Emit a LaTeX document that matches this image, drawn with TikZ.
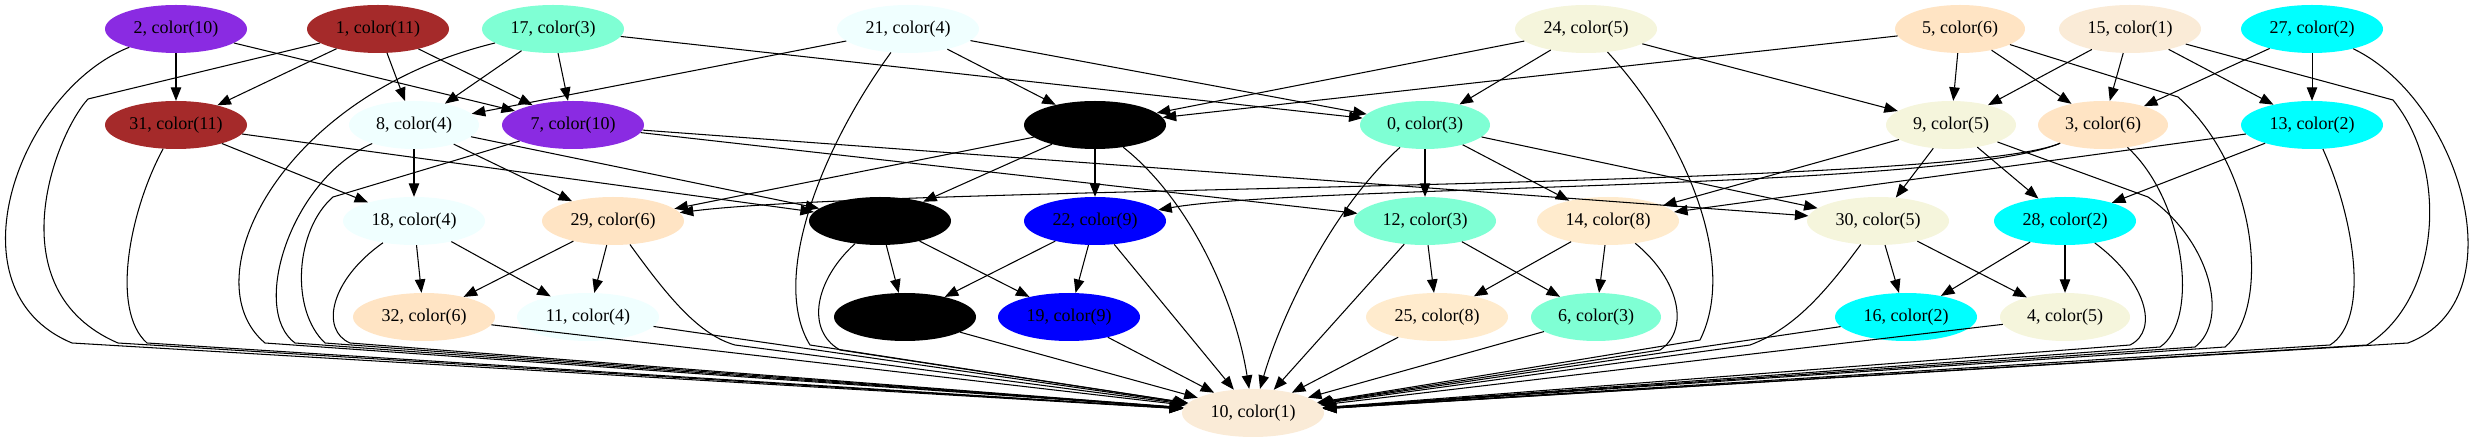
\documentclass[tikz,border=0pt]{standalone}
\usepackage{fontspec}
\setmainfont{Liberation Serif}
\usetikzlibrary{shapes.geometric,arrows.meta}
\definecolor{cantique}{HTML}{FAEBD7}
\definecolor{caqua}{HTML}{00FFFF}
\definecolor{caquamarine}{HTML}{7FFFD4}
\definecolor{cazure}{HTML}{F0FFFF}
\definecolor{cbeige}{HTML}{F5F5DC}
\definecolor{cbisque}{HTML}{FFE4C4}
\definecolor{calmond}{HTML}{FFEBCD}
\definecolor{cblue}{HTML}{0000FF}
\definecolor{cviolet}{HTML}{8A2BE2}
\definecolor{cbrown}{HTML}{A52A2A}
\begin{document}
\begin{tikzpicture}[x=1pt,y=-1pt,
  nd/.style={ellipse, draw=none, minimum width=142pt, minimum height=48pt, inner sep=0pt, font=\fontsize{18}{20}\selectfont},
  sm/.style={minimum width=130pt},
  e/.style={-{Triangle[length=13.5pt,width=10.5pt]}, line width=1.05pt}]
\useasboundingbox (0,0) rectangle (2482,443);
% rank 1
\node[nd, fill=cviolet] (n2) at (176,29) {2, color(10)};
\node[nd, fill=cbrown] (n1) at (378,29) {1, color(11)};
\node[nd, fill=caquamarine] (n17) at (553,29) {17, color(3)};
\node[nd, fill=cazure] (n21) at (908,29) {21, color(4)};
\node[nd, fill=cbeige] (n24) at (1586,29) {24, color(5)};
\node[nd, sm, fill=cbisque] (n5) at (1960,29) {5, color(6)};
\node[nd, fill=cantique] (n15) at (2130,29) {15, color(1)};
\node[nd, fill=caqua] (n27) at (2312,29) {27, color(2)};
% rank 2
\node[nd, fill=cbrown] (n31) at (176,125) {31, color(11)};
\node[nd, sm, fill=cazure] (n8) at (414,125) {8, color(4)};
\node[nd, fill=cviolet] (n7) at (573,125) {7, color(10)};
\node[nd, fill=black] (nA) at (1095,125) {};
\node[nd, sm, fill=caquamarine] (n0) at (1425,125) {0, color(3)};
\node[nd, sm, fill=cbeige] (n9) at (1951,125) {9, color(5)};
\node[nd, sm, fill=cbisque] (n3) at (2103,125) {3, color(6)};
\node[nd, fill=caqua] (n13) at (2312,125) {13, color(2)};
% rank 3
\node[nd, fill=cazure] (n18) at (414,221) {18, color(4)};
\node[nd, fill=cbisque] (n29) at (613,221) {29, color(6)};
\node[nd, fill=black] (nB) at (880,221) {};
\node[nd, fill=cblue] (n22) at (1095,221) {22, color(9)};
\node[nd, fill=caquamarine] (n12) at (1425,221) {12, color(3)};
\node[nd, fill=calmond] (n14) at (1608,221) {14, color(8)};
\node[nd, fill=cbeige] (n30) at (1878,221) {30, color(5)};
\node[nd, fill=caqua] (n28) at (2065,221) {28, color(2)};
% rank 4
\node[nd, fill=cbisque] (n32) at (424,317) {32, color(6)};
\node[nd, fill=cazure] (n11) at (588,317) {11, color(4)};
\node[nd, fill=black] (nC) at (905,317) {};
\node[nd, fill=cblue] (n19) at (1069,317) {19, color(9)};
\node[nd, fill=calmond] (n25) at (1437,317) {25, color(8)};
\node[nd, sm, fill=caquamarine] (n6) at (1596,317) {6, color(3)};
\node[nd, fill=caqua] (n16) at (1906,317) {16, color(2)};
\node[nd, sm, fill=cbeige] (n4) at (2065,317) {4, color(5)};
% rank 5
\node[nd, fill=cantique] (n10) at (1253,413) {10, color(1)};

% rank 1 -> rank 2
\draw[e] (n2) -- (n31);
\draw[e] (n2) -- (n7);
\draw[e] (n1) -- (n31);
\draw[e] (n1) -- (n8);
\draw[e] (n1) -- (n7);
\draw[e] (n17) -- (n8);
\draw[e] (n17) -- (n7);
\draw[e] (n17) -- (n0);
\draw[e] (n21) -- (n8);
\draw[e] (n21) -- (nA);
\draw[e] (n21) -- (n0);
\draw[e] (n24) -- (nA);
\draw[e] (n24) -- (n0);
\draw[e] (n24) -- (n9);
\draw[e] (n5) -- (nA);
\draw[e] (n5) -- (n9);
\draw[e] (n5) -- (n3);
\draw[e] (n15) -- (n9);
\draw[e] (n15) -- (n3);
\draw[e] (n15) -- (n13);
\draw[e] (n27) -- (n3);
\draw[e] (n27) -- (n13);
% rank 2 -> rank 3
\draw[e] (n31) -- (n18);
\draw[e] (n31) -- (nB);
\draw[e] (n8) -- (n18);
\draw[e] (n8) -- (n29);
\draw[e] (n8) -- (nB);
\draw[e] (n7) -- (n12);
\draw[e] (n7) -- (n30);
\draw[e] (nA) -- (nB);
\draw[e] (nA) -- (n22);
\draw[e] (nA) -- (n29);
\draw[e] (n0) -- (n12);
\draw[e] (n0) -- (n14);
\draw[e] (n0) -- (n30);
\draw[e] (n9) -- (n14);
\draw[e] (n9) -- (n30);
\draw[e] (n9) -- (n28);
\draw[e] (n3) .. controls (1950,190) and (900,185) .. (n29);
\draw[e] (n3) .. controls (1950,190) and (1300,185) .. (n22);
\draw[e] (n13) -- (n14);
\draw[e] (n13) -- (n28);
% rank 3 -> rank 4
\draw[e] (n18) -- (n32);
\draw[e] (n18) -- (n11);
\draw[e] (n29) -- (n32);
\draw[e] (n29) -- (n11);
\draw[e] (nB) -- (nC);
\draw[e] (nB) -- (n19);
\draw[e] (n22) -- (nC);
\draw[e] (n22) -- (n19);
\draw[e] (n12) -- (n25);
\draw[e] (n12) -- (n6);
\draw[e] (n14) -- (n25);
\draw[e] (n14) -- (n6);
\draw[e] (n30) -- (n16);
\draw[e] (n30) -- (n4);
\draw[e] (n28) -- (n16);
\draw[e] (n28) -- (n4);
% everything -> 10, left side
\draw[e] (n2) .. controls (20,90) and (-55,290) .. (72,343) -- (n10);
\draw[e] (n1) -- (88,99) .. controls (55,135) and (-5,290) .. (118,343) -- (n10);
\draw[e] (n31) .. controls (130,210) and (110,310) .. (147,343) -- (n10);
\draw[e] (n17) .. controls (280,95) and (190,280) .. (265,343) -- (n10);
\draw[e] (n8) .. controls (290,180) and (250,310) .. (295,343) -- (n10);
\draw[e] (n7) -- (333,197) .. controls (295,230) and (290,310) .. (325,343) -- (n10);
\draw[e] (n18) .. controls (330,280) and (320,330) .. (350,343) -- (n10);
\draw[e] (n29) .. controls (670,300) and (700,335) .. (735,345) -- (n10);
\draw[e] (n21) .. controls (820,150) and (770,280) .. (810,345) -- (n10);
\draw[e] (nB) .. controls (815,280) and (805,330) .. (840,350) -- (n10);
\draw[e] (n32) -- (n10);
\draw[e] (n11) -- (n10);
\draw[e] (nC) -- (n10);
\draw[e] (n19) -- (n10);
\draw[e] (n22) -- (n10);
\draw[e] (nA) .. controls (1190,200) and (1235,300) .. (n10);
% everything -> 10, right side
\draw[e] (n0) .. controls (1330,210) and (1280,320) .. (n10);
\draw[e] (n12) -- (n10);
\draw[e] (n25) -- (n10);
\draw[e] (n6) -- (n10);
\draw[e] (n16) -- (n10);
\draw[e] (n4) -- (n10);
\draw[e] (n14) .. controls (1680,280) and (1690,330) .. (1660,350) -- (n10);
\draw[e] (n30) .. controls (1820,300) and (1790,330) .. (1750,345) -- (n10);
\draw[e] (n24) .. controls (1680,130) and (1740,260) .. (1700,340) -- (n10);
\draw[e] (n28) .. controls (2145,280) and (2160,330) .. (2130,345) -- (n10);
\draw[e] (n3) .. controls (2185,200) and (2200,320) .. (2160,347) -- (n10);
\draw[e] (n9) -- (2148,197) .. controls (2210,240) and (2230,320) .. (2195,347) -- (n10);
\draw[e] (n5) -- (2178,97) .. controls (2260,170) and (2270,310) .. (2225,347) -- (n10);
\draw[e] (n13) .. controls (2355,220) and (2370,320) .. (2330,345) -- (n10);
\draw[e] (n15) -- (2393,100) .. controls (2450,170) and (2440,300) .. (2367,345) -- (n10);
\draw[e] (n27) .. controls (2460,100) and (2520,300) .. (2408,343) -- (n10);
\end{tikzpicture}
\end{document}
